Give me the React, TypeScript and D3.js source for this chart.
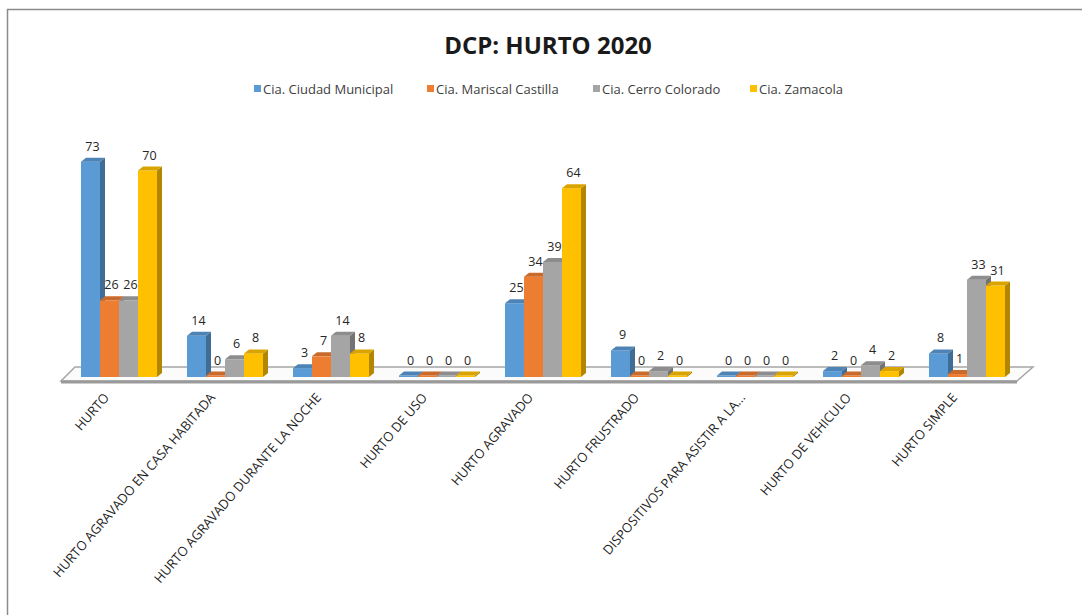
import * as d3 from "d3";

const categories = [
  "HURTO",
  "HURTO AGRAVADO EN CASA HABITADA",
  "HURTO AGRAVADO DURANTE LA NOCHE",
  "HURTO DE USO",
  "HURTO AGRAVADO",
  "HURTO FRUSTRADO",
  "DISPOSITIVOS PARA ASISTIR A LA...",
  "HURTO DE VEHICULO",
  "HURTO SIMPLE",
];

const seriesNames = [
  "Cia. Ciudad Municipal",
  "Cia. Mariscal Castilla",
  "Cia. Cerro Colorado",
  "Cia. Zamacola",
];

const ciudadMunicipal = [73, 14, 3, 0, 25, 9, 0, 2, 8];
const mariscalCastilla = [26, 0, 7, 0, 34, 0, 0, 0, 1];
const cerroColorado = [26, 6, 14, 0, 39, 2, 0, 4, 33];
const zamacola = [70, 8, 8, 0, 64, 0, 0, 2, 31];

const seriesValues = [ciudadMunicipal, mariscalCastilla, cerroColorado, zamacola];
const colors = ["#5B9BD5", "#ED7D31", "#A5A5A5", "#FFC000"];

const W = 1082;
const H = 615;
const font = "'Open Sans', Calibri, sans-serif";

export default function App() {
  const x = d3.scaleBand<string>().domain(categories).range([66, 1020]);
  const inner = d3.scaleBand<string>().domain(seriesNames).range([15, 91]);
  const y = d3.scaleLinear().domain([0, 80]).range([377, 141]);
  const dx = 5;
  const dy = -4;
  const bw = inner.bandwidth();
  const y0 = y(0);

  // floor parallelogram
  const fl = x.range()[0] - 5;
  const fr = x.range()[1] - 3;
  const floorFront = 381;
  const floorBack = 367;
  const floor = [
    [fl, floorFront],
    [fl + 14, floorBack],
    [fr + 16, floorBack],
    [fr, floorFront],
  ];

  const legendX = [254, 427, 593, 750];

  return (
    <svg
      width={W}
      height={H}
      style={{ position: "absolute", left: 0, top: 0, background: "#fff" }}
      fontFamily={font}
    >
      <rect x={7.5} y={9.5} width={1080} height={620} fill="#fff" stroke="#8c8c8c" strokeWidth={1.5} />

      <text x={548} y={54} textAnchor="middle" fontSize={24} fontWeight="bold" fill="#1a1a1a">
        DCP: HURTO 2020
      </text>

      {seriesNames.map((s, i) => (
        <g key={s}>
          <rect x={legendX[i]} y={85} width={7} height={7} fill={colors[i]} />
          <text x={legendX[i] + 9} y={93.5} fontSize={13} fill="#404040">
            {s}
          </text>
        </g>
      ))}

      <polygon
        points={floor.map((p) => p.join(",")).join(" ")}
        fill="#fbfbfb"
        stroke="#a6a6a6"
        strokeWidth={1.5}
      />
      <line x1={fl} x2={fr} y1={floorFront + 1} y2={floorFront + 1} stroke="#9a9a9a" strokeWidth={3} />

      {categories.map((c, ci) => (
        <g key={c} transform={`translate(${x(c)},0)`}>
          {seriesNames.map((s, si) => {
            const v = seriesValues[si][ci];
            const bx = inner(s) as number;
            const yv = Math.min(y(v), y0 - 1.5);
            const base = d3.color(colors[si])!;
            const top = base.darker(0.45).toString();
            const side = base.darker(1).toString();
            return (
              <g key={s}>
                <rect x={bx} y={yv} width={bw} height={y0 - yv} fill={colors[si]} />
                <polygon
                  points={`${bx + bw},${yv} ${bx + bw + dx},${yv + dy} ${bx + bw + dx},${y0 + dy} ${bx + bw},${y0}`}
                  fill={side}
                />
                <polygon
                  points={`${bx},${yv} ${bx + dx},${yv + dy} ${bx + bw + dx},${yv + dy} ${bx + bw},${yv}`}
                  fill={top}
                />
              </g>
            );
          })}
          {seriesNames.map((s, si) => {
            const v = seriesValues[si][ci];
            const bx = inner(s) as number;
            return (
              <text
                key={s}
                x={bx + bw / 2 + 2}
                y={Math.min(y(v), y0 - 1.5) + dy - 7}
                textAnchor="middle"
                fontSize={12.5}
                fill="#262626"
              >
                {v}
              </text>
            );
          })}
        </g>
      ))}

      {categories.map((c) => {
        const cx = (x(c) as number) + x.bandwidth() / 2 - 9;
        return (
          <text
            key={c}
            transform={`translate(${cx},398) rotate(-49)`}
            textAnchor="end"
            fontSize={13}
            fill="#1f1f1f"
          >
            {c}
          </text>
        );
      })}
    </svg>
  );
}
